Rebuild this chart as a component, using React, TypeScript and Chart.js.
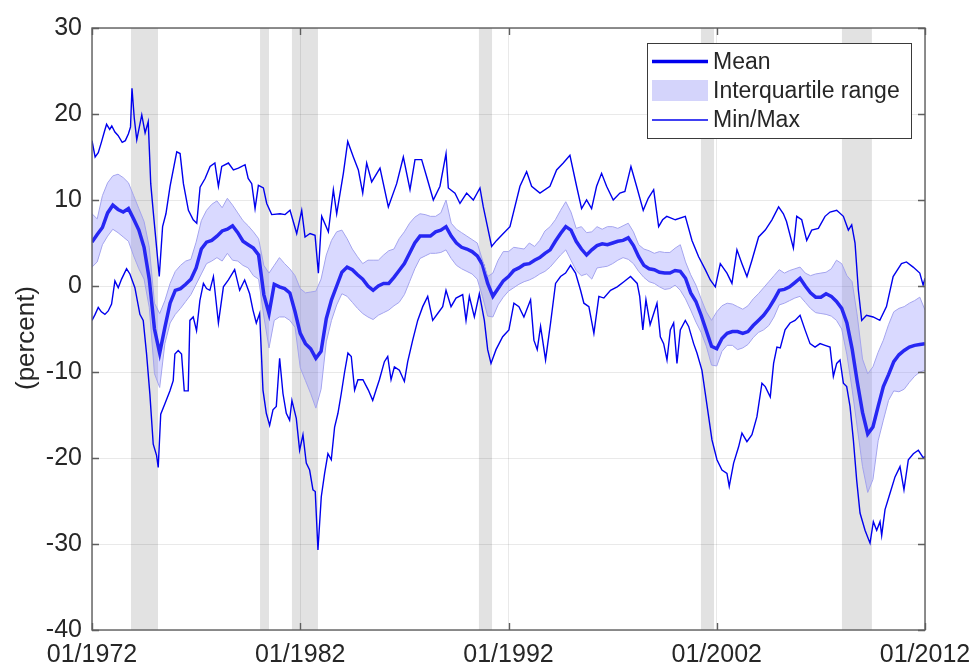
import React, { useEffect, useRef } from "react";
import { Chart, registerables } from "chart.js";

Chart.register(...registerables);

// ---------- data ----------
const START_YEAR = 1972;
// quarterly observation dates (decimal years), 1972Q1 .. 2012Q1
const quarterYears: number[] = Array.from({ length: 161 }, (_, i) => START_YEAR + i / 4);

const xTickYears = [1972, 1982, 1992, 2002, 2012];
const yTickValues = [-40, -30, -20, -10, 0, 10, 20, 30];

// recession periods (decimal years)
const recessionStart = [1973.87, 1980.07, 1981.6, 1990.58, 2001.24, 2008.01];
const recessionEnd = [1975.17, 1980.5, 1982.85, 1991.21, 2001.87, 2009.45];

const meanVals = [
  5.1, 6.0, 6.8, 8.5, // 1972
  9.4, 8.9, 8.6, 9.0, // 1973
  7.8, 6.5, 4.5, 0.8, // 1974
  -5.0, -7.8, -4.8, -2.0, // 1975
  -0.5, -0.3, 0.2, 0.8, // 1976
  2.1, 4.3, 5.1, 5.3, // 1977
  5.8, 6.4, 6.6, 7.0, // 1978
  6.2, 5.2, 4.8, 4.4, // 1979
  3.6, -1.0, -3.2, 0.2, // 1980
  -0.1, -0.3, -0.8, -3.0, // 1981
  -5.5, -6.7, -7.3, -8.4, // 1982
  -7.6, -3.8, -1.6, 0.0, // 1983
  1.6, 2.2, 1.9, 1.3, // 1984
  0.8, 0.0, -0.5, 0.0, // 1985
  0.3, 0.3, 1.0, 1.8, // 1986
  2.6, 3.8, 5.0, 5.8, // 1987
  5.8, 5.8, 6.3, 6.5, // 1988
  6.9, 5.8, 5.0, 4.5, // 1989
  4.3, 4.0, 3.5, 2.5, // 1990
  0.3, -1.2, -0.3, 0.6, // 1991
  1.1, 1.8, 2.1, 2.5, // 1992
  2.6, 3.0, 3.3, 3.8, // 1993
  4.2, 5.2, 6.1, 6.9, // 1994
  6.5, 5.2, 4.3, 3.6, // 1995
  4.2, 4.7, 4.9, 4.8, // 1996
  5.0, 5.2, 5.3, 5.6, // 1997
  4.7, 3.4, 2.4, 2.0, // 1998
  1.9, 1.6, 1.5, 1.5, // 1999
  1.8, 1.7, 0.9, -0.8, // 2000
  -1.8, -3.4, -5.2, -7.0, // 2001
  -7.3, -6.1, -5.5, -5.3, // 2002
  -5.3, -5.5, -5.3, -4.6, // 2003
  -4.0, -3.4, -2.6, -1.6, // 2004
  -0.5, -0.4, -0.1, 0.4, // 2005
  0.9, 0.0, -0.8, -1.3, // 2006
  -1.3, -0.9, -1.2, -1.8, // 2007
  -2.6, -4.3, -7.3, -11.2, // 2008
  -14.7, -17.2, -16.4, -14.0, // 2009
  -11.7, -10.3, -8.8, -8.0, // 2010
  -7.5, -7.1, -6.9, -6.8, // 2011
  -6.7, // 2012
];

const q75Vals = [
  8.4, 7.8, 10.5, 12.0, // 1972
  12.8, 13.0, 12.6, 12.0, // 1973
  10.5, 9.0, 7.5, 4.5, // 1974
  -2.0, -3.2, -1.7, 0.3, // 1975
  1.7, 2.4, 2.9, 3.1, // 1976
  5.1, 7.6, 8.8, 9.5, // 1977
  9.9, 9.1, 10.2, 9.4, // 1978
  8.5, 7.6, 7.0, 6.3, // 1979
  5.5, 2.4, 1.5, 2.4, // 1980
  3.3, 2.6, 2.0, 1.2, // 1981
  -0.3, -0.8, -0.7, -0.6, // 1982
  0.8, 3.6, 5.3, 6.3, // 1983
  6.5, 5.5, 4.3, 3.4, // 1984
  2.6, 3.0, 3.0, 3.0, // 1985
  3.6, 4.1, 4.3, 5.5, // 1986
  6.3, 7.3, 8.0, 8.4, // 1987
  8.3, 8.1, 8.1, 8.5, // 1988
  10.0, 7.3, 6.6, 6.2, // 1989
  5.8, 5.4, 5.0, 3.0, // 1990
  1.1, 1.5, 3.0, 4.0, // 1991
  4.0, 4.5, 4.4, 4.3, // 1992
  5.0, 4.6, 5.3, 6.4, // 1993
  6.9, 7.7, 8.8, 9.8, // 1994
  8.6, 6.7, 6.9, 6.2, // 1995
  6.3, 6.9, 6.6, 6.9, // 1996
  6.9, 6.7, 7.0, 7.3, // 1997
  6.3, 4.8, 4.3, 4.1, // 1998
  3.8, 4.0, 3.9, 3.9, // 1999
  4.4, 4.8, 2.8, 1.3, // 2000
  0.1, -1.5, -3.0, -4.0, // 2001
  -3.0, -2.3, -2.0, -2.1, // 2002
  -2.4, -2.7, -2.3, -1.5, // 2003
  -0.9, -0.2, 0.5, 1.2, // 2004
  1.9, 1.5, 1.8, 2.0, // 2005
  2.2, 1.5, 1.2, 1.4, // 2006
  1.5, 1.6, 2.0, 3.0, // 2007
  2.6, 1.2, 0.5, -3.5, // 2008
  -8.5, -10.2, -9.4, -7.7, // 2009
  -6.3, -4.5, -3.0, -2.6, // 2010
  -2.4, -2.0, -1.7, -1.3, // 2011
  -2.8, // 2012
];

const q25Vals = [
  2.2, 2.8, 4.8, 5.8, // 1972
  6.6, 6.2, 5.7, 5.2, // 1973
  3.5, 2.0, 0.8, -2.5, // 1974
  -10.2, -11.8, -6.7, -4.3, // 1975
  -3.3, -2.6, -1.8, -1.0, // 1976
  0.2, 1.4, 2.6, 2.9, // 1977
  3.3, 2.9, 3.8, 3.0, // 1978
  2.9, 2.4, 2.1, 1.2, // 1979
  0.8, -3.5, -7.2, -4.0, // 1980
  -3.6, -3.6, -4.0, -4.8, // 1981
  -9.5, -11.0, -12.5, -14.2, // 1982
  -12.0, -6.5, -4.0, -2.2, // 1983
  -0.9, -1.2, -1.9, -2.6, // 1984
  -3.2, -3.6, -3.9, -3.4, // 1985
  -3.1, -2.8, -2.3, -1.9, // 1986
  -1.0, 0.5, 2.0, 3.2, // 1987
  3.5, 3.8, 3.8, 3.9, // 1988
  4.2, 3.2, 2.4, 2.0, // 1989
  1.7, 1.4, 0.8, -1.2, // 1990
  -3.5, -3.6, -2.2, -1.3, // 1991
  -0.6, -0.2, 0.2, 0.5, // 1992
  0.7, 1.0, 1.4, 1.7, // 1993
  2.2, 2.9, 3.6, 4.2, // 1994
  3.0, 1.8, 1.2, 1.4, // 1995
  0.8, 2.1, 2.2, 2.3, // 1996
  2.6, 3.0, 3.3, 3.1, // 1997
  2.6, 1.7, 1.0, 0.5, // 1998
  0.3, -0.1, -0.4, -0.3, // 1999
  0.1, -0.5, -1.5, -2.8, // 2000
  -4.2, -5.4, -7.0, -9.2, // 2001
  -9.3, -7.6, -6.9, -6.9, // 2002
  -7.4, -7.2, -6.8, -6.0, // 2003
  -5.4, -5.1, -4.6, -3.6, // 2004
  -2.2, -2.0, -1.7, -1.4, // 2005
  -1.2, -1.9, -2.6, -3.1, // 2006
  -3.2, -3.3, -3.5, -4.0, // 2007
  -5.0, -8.0, -12.0, -16.5, // 2008
  -21.0, -24.0, -22.5, -18.0, // 2009
  -15.6, -13.3, -12.2, -12.3, // 2010
  -12.0, -11.2, -10.5, -10.0, // 2011
  -9.8, // 2012
];

const maxYears = [
  1972.0, 1972.15, 1972.3, 1972.45, 1972.6, 1972.7, 1972.85, 1972.95, 1973.1, 1973.25,
  1973.45, 1973.6, 1973.75, 1973.85, 1973.92, 1974.03, 1974.15, 1974.39, 1974.55, 1974.7,
  1974.82, 1974.95, 1975.07, 1975.23, 1975.39, 1975.55, 1975.75, 1976.07, 1976.23, 1976.39,
  1976.63, 1976.86, 1977.03, 1977.19, 1977.43, 1977.67, 1977.9, 1978.07, 1978.23, 1978.55,
  1978.79, 1979.03, 1979.35, 1979.5, 1979.67, 1979.83, 1979.99, 1980.23, 1980.39, 1980.63,
  1981.03, 1981.27, 1981.51, 1981.83, 1982.07, 1982.23, 1982.47, 1982.71, 1982.87, 1983.03,
  1983.35, 1983.59, 1983.75, 1984.07, 1984.28, 1984.55, 1984.79, 1985.0, 1985.19, 1985.43,
  1985.83, 1986.23, 1986.63, 1986.95, 1987.27, 1987.51, 1987.83, 1988.07, 1988.39, 1988.71,
  1989.0, 1989.11, 1989.43, 1989.67, 1989.99, 1990.31, 1990.63, 1990.79, 1991.19, 1991.43,
  1991.75, 1992.07, 1992.55, 1992.87, 1993.11, 1993.51, 1993.99, 1994.31, 1994.63, 1994.95,
  1995.27, 1995.51, 1995.75, 1995.99, 1996.23, 1996.47, 1996.71, 1997.03, 1997.35, 1997.59,
  1997.88, 1998.15, 1998.47, 1998.71, 1998.97, 1999.21, 1999.4, 1999.6, 2000.01, 2000.49,
  2000.81, 2001.13, 2001.45, 2001.69, 2001.93, 2002.17, 2002.49, 2002.73, 2002.97, 2003.21,
  2003.45, 2003.69, 2004.01, 2004.33, 2004.65, 2004.97, 2005.2, 2005.35, 2005.68, 2005.84,
  2006.08, 2006.32, 2006.56, 2006.88, 2007.2, 2007.44, 2007.76, 2008.08, 2008.32, 2008.48,
  2008.64, 2008.8, 2008.96, 2009.19, 2009.51, 2009.83, 2010.15, 2010.47, 2010.87, 2011.11,
  2011.43, 2011.75, 2011.91, 2012.0,
];
const maxVals = [
  16.9, 15.0, 15.5, 16.7, 18.0, 18.8, 18.2, 18.6, 17.9, 17.5,
  16.7, 16.9, 17.7, 18.5, 23.0, 19.5, 17.0, 19.9, 17.8, 19.1,
  11.9, 8.4, 5.3, 1.1, 6.9, 8.4, 11.6, 15.6, 15.4, 11.9,
  8.8, 7.7, 7.3, 11.5, 12.5, 13.9, 14.3, 11.6, 13.9, 14.3,
  13.5, 13.7, 14.1, 12.5, 11.9, 9.0, 11.7, 11.4, 9.6, 8.3,
  8.4, 8.3, 8.8, 6.1, 8.8, 5.7, 6.1, 5.9, 1.5, 8.1,
  6.3, 11.2, 8.4, 13.1, 16.8, 15.0, 13.5, 10.8, 14.3, 12.1,
  13.7, 9.2, 11.9, 15.0, 11.2, 14.7, 14.7, 12.7, 10.0, 11.6,
  15.4, 11.4, 10.8, 9.6, 10.8, 10.0, 11.4, 9.2, 4.6, 5.3,
  6.1, 6.9, 11.6, 13.3, 11.6, 10.8, 11.6, 13.5, 14.3, 15.2,
  11.6, 9.0, 10.0, 9.0, 11.6, 13.1, 11.6, 10.0, 10.8, 11.0,
  13.9, 11.6, 8.8, 10.2, 11.2, 6.9, 7.7, 8.1, 7.7, 8.1,
  5.3, 3.4, 1.9, 0.7, -0.1, 2.6, 1.5, 0.3, 4.2, 2.6,
  1.1, 3.0, 5.7, 6.5, 7.7, 9.2, 8.4, 7.5, 4.4, 8.1,
  7.7, 5.3, 6.5, 6.7, 8.1, 8.6, 8.8, 8.1, 6.5, 7.1,
  5.0, -0.5, -4.0, -3.4, -3.6, -4.0, -2.4, 1.1, 2.6, 2.8,
  2.2, 1.5, 0.1, 0.9,
];

const minYears = [
  1972.0, 1972.15, 1972.3, 1972.45, 1972.62, 1972.78, 1972.94, 1973.1, 1973.26, 1973.42,
  1973.66, 1973.82, 1974.06, 1974.3, 1974.46, 1974.62, 1974.78, 1974.94, 1975.1, 1975.18,
  1975.3, 1975.5, 1975.74, 1975.9, 1975.98, 1976.14, 1976.3, 1976.43, 1976.62, 1976.7,
  1976.86, 1977.02, 1977.18, 1977.35, 1977.5, 1977.66, 1977.83, 1978.07, 1978.31, 1978.55,
  1978.85, 1979.09, 1979.33, 1979.57, 1979.73, 1979.89, 1980.05, 1980.21, 1980.37, 1980.53,
  1980.69, 1980.85, 1981.01, 1981.17, 1981.33, 1981.49, 1981.6, 1981.81, 1981.97, 1982.13,
  1982.29, 1982.45, 1982.61, 1982.72, 1982.85, 1983.01, 1983.17, 1983.33, 1983.49, 1983.65,
  1983.81, 1983.97, 1984.13, 1984.29, 1984.45, 1984.61, 1984.77, 1985.01, 1985.27, 1985.48,
  1985.64, 1985.8, 1986.04, 1986.2, 1986.36, 1986.52, 1986.76, 1987.0, 1987.16, 1987.4,
  1987.64, 1987.88, 1988.12, 1988.36, 1988.6, 1988.84, 1989.0, 1989.24, 1989.48, 1989.8,
  1989.96, 1990.12, 1990.36, 1990.6, 1990.84, 1991.0, 1991.16, 1991.4, 1991.72, 1992.02,
  1992.26, 1992.5, 1992.74, 1993.06, 1993.22, 1993.38, 1993.54, 1993.78, 1994.02, 1994.26,
  1994.5, 1994.74, 1994.98, 1995.22, 1995.46, 1995.62, 1995.86, 1996.1, 1996.34, 1996.58,
  1996.9, 1997.22, 1997.54, 1997.86, 1998.18, 1998.3, 1998.45, 1998.6, 1998.8, 1999.13,
  1999.29, 1999.45, 1999.61, 1999.77, 1999.93, 2000.09, 2000.25, 2000.49, 2000.65, 2000.89,
  2001.05, 2001.29, 2001.45, 2001.61, 2001.77, 2002.01, 2002.25, 2002.49, 2002.6, 2002.81,
  2003.05, 2003.21, 2003.45, 2003.69, 2003.93, 2004.17, 2004.33, 2004.57, 2004.73, 2004.89,
  2005.05, 2005.28, 2005.52, 2005.76, 2006.0, 2006.24, 2006.48, 2006.72, 2006.96, 2007.2,
  2007.44, 2007.6, 2007.76, 2007.92, 2008.08, 2008.24, 2008.4, 2008.56, 2008.72, 2008.88,
  2009.12, 2009.36, 2009.52, 2009.68, 2009.84, 2009.92, 2010.08, 2010.32, 2010.56, 2010.8,
  2010.99, 2011.2, 2011.44, 2011.68, 2011.92, 2012.0,
];
const minVals = [
  -4.0, -3.3, -2.5, -3.0, -3.3, -2.9, -2.1, 0.6, -0.2, 0.8,
  2.0, 1.4, -0.2, -3.3, -4.0, -7.9, -12.6, -18.4, -19.7, -21.1,
  -14.9, -13.7, -12.2, -11.0, -7.9, -7.5, -7.9, -12.2, -12.2, -4.0,
  -3.6, -5.2, -1.7, 0.3, -0.3, -0.5, 1.1, -4.3, -0.1, 0.7,
  1.9, -0.5, 0.7, -0.9, -2.8, -4.3, -3.2, -12.1, -14.8, -16.2,
  -14.4, -14.0, -8.4, -12.5, -14.8, -15.6, -13.3, -15.4, -19.1, -17.3,
  -20.6, -21.4, -23.7, -23.9, -30.7, -24.5, -21.8, -19.5, -20.2, -16.4,
  -14.8, -12.5, -10.0, -7.8, -8.2, -12.1, -10.9, -10.9, -12.1, -13.3,
  -12.1, -10.9, -8.8, -8.2, -10.9, -9.4, -9.8, -11.1, -8.8, -6.3,
  -4.0, -2.4, -1.2, -4.0, -3.2, -2.4, -0.5, -2.4, -1.4, -1.0,
  -4.0, -1.2, -3.6, -0.9, -4.0, -7.4, -9.0, -7.4, -5.9, -5.1,
  -2.0, -2.4, -3.6, -1.6, -6.3, -7.4, -4.7, -8.6, -4.3, 0.3,
  1.1, 1.5, 2.4, 1.5, -0.5, -2.0, -2.4, -5.5, -1.2, -1.4,
  -0.5, -0.1, 0.5, 1.1, 0.3, -1.2, -5.1, -1.6, -4.5, -2.0,
  -5.9, -6.7, -8.6, -5.1, -4.3, -9.0, -5.1, -4.0, -4.7, -6.7,
  -7.8, -9.8, -12.5, -15.2, -17.9, -20.2, -21.4, -21.8, -23.3, -20.6,
  -18.7, -17.1, -18.1, -17.3, -15.2, -11.3, -11.7, -12.9, -9.0, -7.1,
  -7.2, -5.1, -4.3, -4.0, -3.4, -5.1, -6.7, -7.1, -6.7, -6.9,
  -7.1, -10.5, -9.0, -8.6, -11.3, -11.7, -14.0, -17.9, -22.6, -26.4,
  -28.4, -29.9, -27.4, -28.4, -27.4, -29.0, -26.0, -24.1, -22.2, -21.0,
  -23.7, -20.2, -19.5, -19.1, -20.0, -19.8,
];

const legendLabels = ["Mean", "Interquartile range", "Min/Max"];

// ---------- styles ----------
const FONT = '"Liberation Sans", Arial, Helvetica, sans-serif';
const TEXT_COLOR = "#262626";
const BLUE = "#0000ee";
const IQR_EDGE = "#a4a4ee";
const IQR_FILL = "rgba(130,130,255,0.30)";
const IQR_PATCH = "#d4d4fb";
const GRID = "rgba(0,0,0,0.085)";
const RECESSION = "#e2e2e2";

const toXY = (xs: number[], ys: number[]) => xs.map((x, i) => ({ x, y: ys[i] }));

const decorPlugin = {
  id: "decor",
  beforeDraw(chart: any) {
    const { ctx, chartArea: a, scales } = chart;
    const xs = scales.x;
    ctx.save();
    ctx.fillStyle = RECESSION;
    for (let i = 0; i < recessionStart.length; i++) {
      const x0 = xs.getPixelForValue(recessionStart[i]);
      const x1 = xs.getPixelForValue(recessionEnd[i]);
      ctx.fillRect(x0, a.top, x1 - x0, a.bottom - a.top);
    }
    ctx.restore();
  },
  afterDraw(chart: any) {
    const { ctx, chartArea: a, scales } = chart;
    const xs = scales.x;
    const ys = scales.y;
    ctx.save();
    // axes box
    ctx.strokeStyle = "#5e5e5e";
    ctx.lineWidth = 1.4;
    ctx.strokeRect(a.left, a.top, a.right - a.left, a.bottom - a.top);
    // inward ticks on all four sides
    const tl = 7;
    ctx.beginPath();
    for (const v of yTickValues) {
      const py = Math.round(ys.getPixelForValue(v)) + 0.5;
      ctx.moveTo(a.left, py);
      ctx.lineTo(a.left + tl, py);
      ctx.moveTo(a.right, py);
      ctx.lineTo(a.right - tl, py);
    }
    for (const v of xTickYears) {
      const px = Math.round(xs.getPixelForValue(v)) + 0.5;
      ctx.moveTo(px, a.bottom);
      ctx.lineTo(px, a.bottom - tl);
      ctx.moveTo(px, a.top);
      ctx.lineTo(px, a.top + tl);
    }
    ctx.stroke();

    // y axis title
    ctx.fillStyle = TEXT_COLOR;
    ctx.font = `26px ${FONT}`;
    ctx.textAlign = "center";
    ctx.textBaseline = "middle";
    ctx.translate(27, (a.top + a.bottom) / 2 + 9);
    ctx.rotate(-Math.PI / 2);
    ctx.fillText("(percent)", 0, 0);
    ctx.restore();

    // legend
    ctx.save();
    const lx = a.right - 278;
    const ly = a.top + 15;
    const lw = 264;
    const lh = 95;
    ctx.fillStyle = "#ffffff";
    ctx.fillRect(lx, ly, lw, lh);
    ctx.strokeStyle = "#3a3a3a";
    ctx.lineWidth = 1;
    ctx.strokeRect(lx + 0.5, ly + 0.5, lw, lh);
    const sx0 = lx + 5;
    const sx1 = lx + 61;
    const rows = [ly + 18.5, ly + 47.5, ly + 77];
    // mean
    ctx.strokeStyle = BLUE;
    ctx.lineWidth = 3.5;
    ctx.beginPath();
    ctx.moveTo(sx0, rows[0]);
    ctx.lineTo(sx1, rows[0]);
    ctx.stroke();
    // IQR patch
    ctx.fillStyle = IQR_PATCH;
    ctx.fillRect(sx0, rows[1] - 10.5, sx1 - sx0, 21);
    // min/max
    ctx.lineWidth = 1.4;
    ctx.beginPath();
    ctx.moveTo(sx0, rows[2]);
    ctx.lineTo(sx1, rows[2]);
    ctx.stroke();
    ctx.fillStyle = TEXT_COLOR;
    ctx.font = `23px ${FONT}`;
    ctx.textAlign = "left";
    ctx.textBaseline = "middle";
    legendLabels.forEach((t, i) => ctx.fillText(t, sx1 + 5, rows[i] + 1));
    ctx.restore();
  },
};

export default function App() {
  const canvasRef = useRef<HTMLCanvasElement | null>(null);

  useEffect(() => {
    if (!canvasRef.current) return;
    const chart = new Chart(canvasRef.current, {
      type: "line",
      data: {
        datasets: [
          {
            label: "75th percentile",
            data: toXY(quarterYears, q75Vals),
            borderColor: IQR_EDGE,
            borderWidth: 1,
            pointRadius: 0,
            fill: false,
            tension: 0,
          },
          {
            label: "25th percentile",
            data: toXY(quarterYears, q25Vals),
            borderColor: IQR_EDGE,
            borderWidth: 1,
            backgroundColor: IQR_FILL,
            pointRadius: 0,
            fill: "-1",
            tension: 0,
          },
          {
            label: "Mean",
            data: toXY(quarterYears, meanVals),
            borderColor: BLUE,
            borderWidth: 3.5,
            pointRadius: 0,
            fill: false,
            tension: 0,
          },
          {
            label: "Max",
            data: toXY(maxYears, maxVals),
            borderColor: BLUE,
            borderWidth: 1.4,
            pointRadius: 0,
            fill: false,
            tension: 0,
          },
          {
            label: "Min",
            data: toXY(minYears, minVals),
            borderColor: BLUE,
            borderWidth: 1.4,
            pointRadius: 0,
            fill: false,
            tension: 0,
          },
        ],
      },
      options: {
        animation: false,
        responsive: true,
        maintainAspectRatio: false,
        parsing: false as any,
        layout: { padding: { left: 0, top: 28, right: 49, bottom: 0 } },
        plugins: {
          legend: { display: false },
          tooltip: { enabled: false },
        },
        scales: {
          x: {
            type: "linear",
            min: 1972,
            max: 2012,
            afterBuildTicks: (s: any) => {
              s.ticks = xTickYears.map((v) => ({ value: v }));
            },
            afterFit: (s: any) => {
              s.height = 38;
              s.paddingLeft = 0;
              s.paddingRight = 0;
            },
            ticks: {
              callback: (v: any) => "01/" + v,
              font: { family: FONT, size: 25 },
              color: TEXT_COLOR,
              padding: 10,
              maxRotation: 0,
              autoSkip: false,
            },
            grid: { color: GRID, drawTicks: false, lineWidth: 1 },
            border: { display: false },
          },
          y: {
            type: "linear",
            min: -40,
            max: 30,
            afterBuildTicks: (s: any) => {
              s.ticks = yTickValues.map((v) => ({ value: v }));
            },
            afterFit: (s: any) => {
              s.width = 92;
              s.paddingTop = 0;
              s.paddingBottom = 0;
            },
            ticks: {
              font: { family: FONT, size: 25 },
              color: TEXT_COLOR,
              padding: 10,
            },
            grid: { color: GRID, drawTicks: false, lineWidth: 1 },
            border: { display: false },
          },
        },
      },
      plugins: [decorPlugin],
    });
    return () => chart.destroy();
  }, []);

  return (
    <div
      style={{
        position: "fixed",
        left: 0,
        top: 0,
        width: 974,
        height: 668,
        background: "#ffffff",
      }}
    >
      <canvas ref={canvasRef} />
    </div>
  );
}
